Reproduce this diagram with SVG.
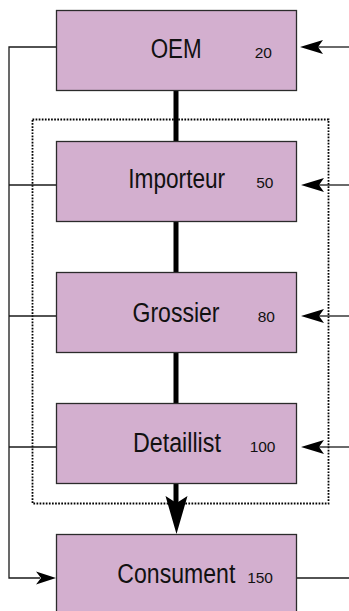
<svg xmlns="http://www.w3.org/2000/svg" width="349" height="611" viewBox="0 0 349 611">
  <defs>
    <style>
      .box { fill: #D3AFCF; stroke: #2b2b2b; stroke-width: 1.3; }
      .lbl { font-family: "Liberation Sans", Arial, sans-serif; font-size: 27px; fill: #111; text-anchor: middle; }
      .num { font-family: "Liberation Sans", Arial, sans-serif; font-size: 15.5px; fill: #111; text-anchor: end; }
      .thin { stroke: #1a1a1a; stroke-width: 1.3; fill: none; }
      .thick { stroke: #000; stroke-width: 5; fill: none; }
      .dot { stroke: #000; stroke-width: 1.8; fill: none; stroke-dasharray: 1.7 1.4; }
      .head { fill: #000; }
    </style>
    <path id="ahL" d="M0,0 L23,-7 L18,0 L23,7 Z"/>
  </defs>

  <rect id="boundary" class="dot" x="32.5" y="119.5" width="296" height="384"/>

  <g id="connectors">
    <line class="thick" x1="176" y1="90" x2="176" y2="505"/>
    <path class="head" d="M176.5,534 L165.5,496 L176.5,503 L187.5,496 Z"/>
    <polyline class="thin" points="56,47 9,47 9,578 40,578"/>
    <line class="thin" x1="9" y1="185" x2="56" y2="185"/>
    <line class="thin" x1="9" y1="316" x2="56" y2="316"/>
    <line class="thin" x1="9" y1="447" x2="56" y2="447"/>
    <path class="head" d="M56,578 L36,571.5 L41,578 L36,584.5 Z"/>
    <line class="thin" x1="318" y1="47" x2="349" y2="47"/>
    <use href="#ahL" x="300" y="47" class="head"/>
    <line class="thin" x1="318" y1="185" x2="349" y2="185"/>
    <use href="#ahL" x="301" y="185" class="head"/>
    <line class="thin" x1="318" y1="316" x2="349" y2="316"/>
    <use href="#ahL" x="301" y="316" class="head"/>
    <line class="thin" x1="318" y1="447" x2="349" y2="447"/>
    <use href="#ahL" x="301" y="447" class="head"/>
    <line class="thin" x1="296" y1="578" x2="349" y2="578"/>
  </g>

  <g id="oem">
    <rect class="box" x="56.5" y="10.5" width="240" height="80"/>
    <text class="lbl" transform="translate(176.2 58) scale(0.85 1)" textLength="60" lengthAdjust="spacingAndGlyphs">OEM</text>
    <text class="num" x="272" y="57.5">20</text>
  </g>
  <g id="importeur">
    <rect class="box" x="56.5" y="141.5" width="240" height="80"/>
    <text class="lbl" transform="translate(176.7 187.7) scale(0.85 1)" textLength="114" lengthAdjust="spacingAndGlyphs">Importeur</text>
    <text class="num" x="273.5" y="187.7">50</text>
  </g>
  <g id="grossier">
    <rect class="box" x="56.5" y="272.5" width="240" height="80"/>
    <text class="lbl" transform="translate(176 321.7) scale(0.85 1)" textLength="102.4" lengthAdjust="spacingAndGlyphs">Grossier</text>
    <text class="num" x="275" y="321.7">80</text>
  </g>
  <g id="detaillist">
    <rect class="box" x="56.5" y="403.5" width="240" height="80"/>
    <text class="lbl" transform="translate(176.9 451.7) scale(0.85 1)" textLength="103.5" lengthAdjust="spacingAndGlyphs">Detaillist</text>
    <text class="num" x="275.5" y="451.7">100</text>
  </g>
  <g id="consument">
    <rect class="box" x="56.5" y="534.5" width="240" height="82"/>
    <text class="lbl" transform="translate(176.3 583.3) scale(0.85 1)" textLength="138.8" lengthAdjust="spacingAndGlyphs">Consument</text>
    <text class="num" x="273" y="583.3">150</text>
  </g>
</svg>
